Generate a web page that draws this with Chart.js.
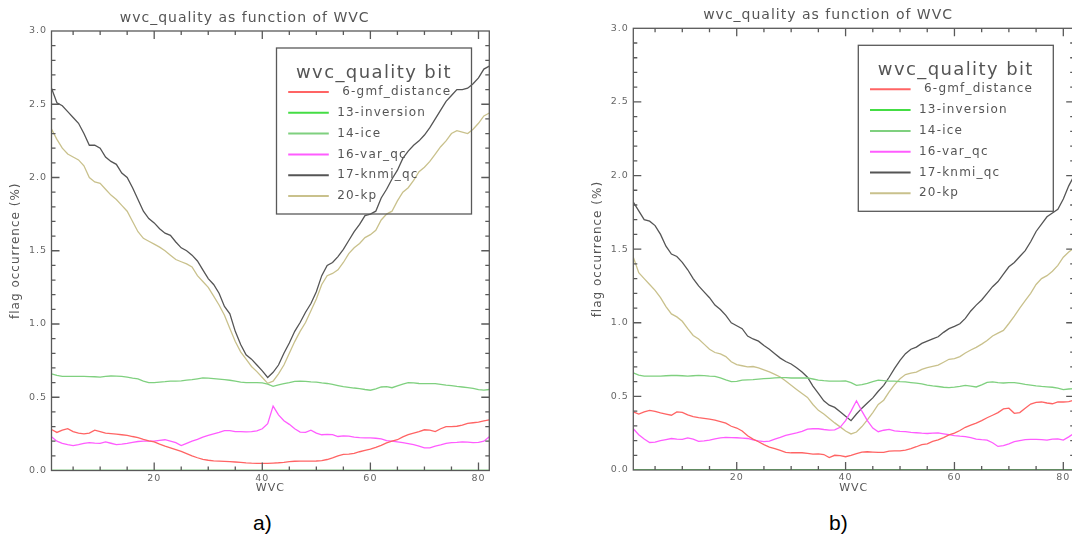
<!DOCTYPE html>
<html>
<head>
<meta charset="utf-8">
<script src="https://cdn.jsdelivr.net/npm/chart.js@4.4.0/dist/chart.umd.min.js"></script>
<style>
  body { margin: 0; width: 1072px; height: 545px; overflow: hidden; background: #fff; position: relative; }
  canvas { position: absolute; top: 0; }
  #chart-a { left: 0; }
  #chart-b { left: 582px; }
  .tag { position: absolute; top: 511px; font: 21px "Liberation Sans", Arial, sans-serif; color: #000; }
</style>
</head>
<body>
<canvas id="chart-a" width="492" height="500"></canvas>
<canvas id="chart-b" width="494" height="500"></canvas>
<div class="tag" style="left:253px">a)</div>
<div class="tag" style="left:829px">b)</div>
<script>
'use strict';

// WVC index 1..82
const wvc = Array.from({ length: 82 }, (_, i) => i + 1);
const xTickLabels = [20, 40, 60, 80];

const seriesNames = [' 6-gmf_distance', '13-inversion', '14-ice', '16-var_qc', '17-knmi_qc', '20-kp'];
const seriesColors = ['#ff6464', '#44dd44', '#7fd07f', '#ff5cff', '#555555', '#c9c18c'];

// ---- panel a)
const gmfA = [0.28,0.26,0.275,0.285,0.265,0.255,0.25,0.255,0.275,0.265,
  0.255,0.252,0.248,0.244,0.24,0.232,0.225,0.213,0.203,0.195,
  0.18,0.166,0.154,0.142,0.13,0.115,0.10,0.087,0.076,0.07,
  0.066,0.064,0.062,0.06,0.058,0.055,0.052,0.05,0.049,0.048,
  0.049,0.051,0.053,0.056,0.06,0.063,0.064,0.064,0.064,0.065,
  0.068,0.075,0.086,0.10,0.11,0.112,0.117,0.128,0.137,0.146,
  0.158,0.172,0.188,0.20,0.21,0.23,0.245,0.255,0.265,0.278,
  0.275,0.265,0.285,0.30,0.30,0.302,0.31,0.322,0.326,0.33,
  0.338,0.345];
const inversionA = [0,0,0,0,0,0,0,0,0,0, 0,0,0,0,0,0,0,0,0,0, 0,0,0,0,0,0,0,0,0,0,
  0,0,0,0,0,0,0,0,0,0, 0,0,0,0,0,0,0,0,0,0, 0,0,0,0,0,0,0,0,0,0,
  0,0,0,0,0,0,0,0,0,0, 0,0,0,0,0,0,0,0,0,0, 0,0];
const iceA = [0.66,0.65,0.643,0.643,0.643,0.643,0.642,0.641,0.64,0.638,
  0.643,0.645,0.644,0.643,0.638,0.63,0.625,0.61,0.60,0.60,
  0.603,0.606,0.61,0.61,0.612,0.617,0.62,0.626,0.632,0.63,
  0.627,0.624,0.62,0.616,0.61,0.603,0.60,0.60,0.60,0.598,
  0.59,0.575,0.585,0.593,0.60,0.608,0.61,0.608,0.605,0.603,
  0.598,0.594,0.588,0.58,0.572,0.568,0.563,0.559,0.553,0.548,
  0.557,0.57,0.573,0.565,0.578,0.59,0.60,0.598,0.594,0.593,
  0.593,0.593,0.588,0.583,0.58,0.574,0.57,0.566,0.56,0.552,
  0.548,0.553];
const varqcA = [0.23,0.20,0.185,0.176,0.17,0.177,0.185,0.19,0.187,0.185,
  0.195,0.186,0.177,0.18,0.185,0.192,0.198,0.2,0.2,0.2,
  0.205,0.21,0.2,0.19,0.17,0.185,0.2,0.212,0.228,0.24,
  0.25,0.26,0.272,0.272,0.266,0.265,0.264,0.265,0.27,0.285,
  0.32,0.44,0.38,0.34,0.315,0.285,0.262,0.26,0.275,0.255,
  0.244,0.247,0.245,0.232,0.237,0.235,0.228,0.224,0.223,0.223,
  0.22,0.216,0.204,0.2,0.195,0.19,0.184,0.176,0.167,0.155,
  0.155,0.167,0.175,0.185,0.19,0.192,0.195,0.193,0.19,0.192,
  0.2,0.23];
const knmiA = [2.61,2.51,2.49,2.45,2.41,2.37,2.30,2.22,2.22,2.20,
  2.14,2.11,2.09,2.03,2.00,1.93,1.85,1.77,1.72,1.69,
  1.65,1.62,1.605,1.56,1.52,1.50,1.47,1.43,1.37,1.31,
  1.27,1.21,1.12,1.07,0.95,0.86,0.79,0.76,0.72,0.68,
  0.635,0.67,0.72,0.80,0.87,0.95,1.01,1.08,1.14,1.22,
  1.33,1.40,1.42,1.46,1.51,1.57,1.63,1.68,1.74,1.75,
  1.77,1.86,1.92,1.99,2.05,2.13,2.18,2.22,2.25,2.29,
  2.34,2.40,2.46,2.52,2.56,2.60,2.60,2.61,2.64,2.68,
  2.74,2.76];
const kpA = [2.33,2.26,2.20,2.16,2.14,2.12,2.08,2.00,1.97,1.96,
  1.92,1.88,1.85,1.81,1.77,1.70,1.63,1.585,1.565,1.545,
  1.525,1.50,1.47,1.44,1.425,1.41,1.39,1.33,1.29,1.25,
  1.19,1.13,1.06,0.97,0.88,0.81,0.76,0.71,0.675,0.635,
  0.595,0.61,0.66,0.72,0.80,0.88,0.95,1.01,1.09,1.17,
  1.27,1.33,1.345,1.37,1.42,1.48,1.52,1.55,1.59,1.61,
  1.64,1.71,1.75,1.77,1.84,1.90,1.93,1.98,2.04,2.07,
  2.11,2.16,2.21,2.25,2.30,2.32,2.31,2.30,2.33,2.37,
  2.42,2.44];

// ---- panel b)
const gmfB = [0.395,0.38,0.395,0.405,0.398,0.388,0.38,0.372,0.395,0.392,
  0.375,0.362,0.355,0.35,0.345,0.338,0.328,0.318,0.297,0.285,
  0.265,0.232,0.21,0.192,0.172,0.155,0.145,0.133,0.12,0.117,
  0.117,0.117,0.113,0.108,0.11,0.105,0.085,0.10,0.098,0.09,
  0.10,0.112,0.122,0.124,0.122,0.12,0.12,0.128,0.13,0.13,
  0.135,0.145,0.158,0.172,0.178,0.195,0.205,0.22,0.238,0.25,
  0.268,0.29,0.305,0.318,0.335,0.355,0.372,0.39,0.415,0.42,
  0.385,0.39,0.42,0.448,0.46,0.462,0.455,0.45,0.462,0.462,
  0.465,0.475];
const inversionB = [0,0,0,0,0,0,0,0,0,0, 0,0,0,0,0,0,0,0,0,0, 0,0,0,0,0,0,0,0,0,0,
  0,0,0,0,0,0,0,0,0,0, 0,0,0,0,0,0,0,0,0,0, 0,0,0,0,0,0,0,0,0,0,
  0,0,0,0,0,0,0,0,0,0, 0,0,0,0,0,0,0,0,0,0, 0,0];
const iceB = [0.66,0.645,0.637,0.637,0.637,0.638,0.64,0.642,0.642,0.64,
  0.637,0.64,0.643,0.641,0.638,0.636,0.625,0.612,0.6,0.602,
  0.61,0.612,0.614,0.617,0.62,0.623,0.626,0.628,0.627,0.625,
  0.625,0.625,0.625,0.618,0.611,0.607,0.604,0.603,0.604,0.605,
  0.593,0.575,0.58,0.588,0.6,0.61,0.607,0.604,0.603,0.6,
  0.598,0.594,0.59,0.585,0.577,0.571,0.567,0.562,0.56,0.563,
  0.568,0.575,0.57,0.564,0.578,0.595,0.598,0.594,0.591,0.593,
  0.594,0.588,0.581,0.577,0.572,0.568,0.565,0.562,0.556,0.546,
  0.55,0.553];
const varqcB = [0.28,0.24,0.21,0.187,0.19,0.2,0.207,0.214,0.21,0.208,
  0.218,0.21,0.195,0.198,0.203,0.212,0.218,0.221,0.22,0.219,
  0.217,0.214,0.205,0.198,0.193,0.196,0.21,0.222,0.235,0.244,
  0.252,0.262,0.278,0.28,0.28,0.275,0.271,0.272,0.29,0.335,
  0.40,0.47,0.40,0.335,0.285,0.26,0.27,0.276,0.266,0.262,
  0.26,0.256,0.253,0.25,0.248,0.25,0.252,0.246,0.24,0.234,
  0.23,0.227,0.22,0.21,0.206,0.203,0.185,0.16,0.165,0.178,
  0.192,0.2,0.206,0.208,0.208,0.206,0.203,0.21,0.212,0.203,
  0.225,0.25];
const knmiB = [1.82,1.76,1.70,1.69,1.66,1.60,1.52,1.467,1.45,1.41,
  1.36,1.30,1.25,1.21,1.17,1.12,1.09,1.05,1.00,0.98,
  0.96,0.91,0.89,0.875,0.845,0.82,0.79,0.76,0.737,0.72,
  0.695,0.665,0.63,0.57,0.52,0.47,0.44,0.425,0.395,0.365,
  0.335,0.38,0.42,0.455,0.49,0.535,0.575,0.63,0.69,0.745,
  0.79,0.82,0.835,0.86,0.875,0.89,0.905,0.935,0.96,0.975,
  0.993,1.03,1.08,1.12,1.155,1.2,1.245,1.28,1.33,1.38,
  1.41,1.45,1.49,1.55,1.62,1.67,1.72,1.745,1.77,1.84,
  1.93,2.0];
const kpB = [1.445,1.34,1.30,1.26,1.22,1.17,1.11,1.06,1.04,1.01,
  0.96,0.914,0.89,0.855,0.82,0.798,0.788,0.77,0.735,0.716,
  0.708,0.70,0.703,0.694,0.68,0.666,0.65,0.632,0.604,0.575,
  0.547,0.52,0.493,0.445,0.405,0.38,0.35,0.32,0.293,0.265,
  0.245,0.258,0.295,0.34,0.39,0.445,0.474,0.53,0.58,0.62,
  0.648,0.658,0.665,0.683,0.695,0.704,0.713,0.732,0.752,0.756,
  0.77,0.795,0.815,0.833,0.855,0.88,0.91,0.93,0.948,0.995,
  1.045,1.10,1.15,1.20,1.26,1.30,1.32,1.35,1.39,1.445,
  1.48,1.51];

const titleText = 'wvc_quality as function of WVC';
const legendTitle = 'wvc_quality bit';
const FONT = '"DejaVu Sans", sans-serif';

// IDL style text is widely spaced
const spacing = {
  id: 'spacing',
  beforeUpdate(chart) { chart.ctx.letterSpacing = '1px'; },
  beforeDraw(chart) { chart.ctx.letterSpacing = '1px'; }
};

// box round the plot with inward ticks
const frame = {
  id: 'frame',
  afterDatasetsDraw(chart) {
    const { ctx, chartArea: a, scales: { x, y } } = chart;
    ctx.save();
    ctx.strokeStyle = '#595959';
    ctx.lineWidth = 1.3;
    ctx.strokeRect(a.left, a.top, a.right - a.left, a.bottom - a.top);
    ctx.beginPath();
    for (let v = 5; v <= 80; v += 5) {
      const px = x.getPixelForValue(v);
      const len = v % 20 === 0 ? 8 : 4;
      ctx.moveTo(px, a.bottom); ctx.lineTo(px, a.bottom - len);
      ctx.moveTo(px, a.top); ctx.lineTo(px, a.top + len);
    }
    for (let i = 1; i < 30; i++) {
      const py = y.getPixelForValue(i / 10);
      const len = i % 5 === 0 ? 8 : 4;
      ctx.moveTo(a.left, py); ctx.lineTo(a.left + len, py);
      ctx.moveTo(a.right, py); ctx.lineTo(a.right - len, py);
    }
    ctx.stroke();
    ctx.restore();
  }
};

// legend box inside the plot (transparent, lines run through it)
const boxLegend = {
  id: 'boxLegend',
  afterDraw(chart) {
    const { ctx, chartArea: a } = chart;
    const L = a.left + 225, T = a.top + 17, W = 195, H = 166;
    ctx.save();
    ctx.strokeStyle = '#595959';
    ctx.lineWidth = 1.3;
    ctx.strokeRect(L, T, W, H);
    ctx.fillStyle = '#555';
    ctx.textBaseline = 'middle';
    ctx.textAlign = 'center';
    ctx.letterSpacing = '1.4px';
    ctx.font = '18px ' + FONT;
    ctx.fillText(legendTitle, L + W / 2, T + 25);
    ctx.textAlign = 'left';
    ctx.letterSpacing = '1.2px';
    ctx.font = '12px ' + FONT;
    chart.data.datasets.forEach((ds, i) => {
      const yy = T + 44 + i * 20.8;
      ctx.strokeStyle = ds.borderColor;
      ctx.lineWidth = 2;
      ctx.beginPath();
      ctx.moveTo(L + 11.7, yy);
      ctx.lineTo(L + 52.3, yy);
      ctx.stroke();
      ctx.fillText(ds.label, L + 60.7, yy);
    });
    ctx.restore();
  }
};

function makeChart(id, series, o) {
  const ctx = document.getElementById(id).getContext('2d');
  const datasets = series.map((vals, i) => ({
    label: seriesNames[i],
    data: vals.map((v, j) => ({ x: wvc[j], y: v })),
    borderColor: seriesColors[i],
    borderWidth: 1.3,
    pointRadius: 0,
    tension: 0,
  }));

  return new Chart(ctx, {
    type: 'line',
    data: { datasets },
    options: {
      responsive: false,
      animation: false,
      layout: { padding: { right: o.padRight } },
      scales: {
        x: {
          type: 'linear',
          min: 1,
          max: 82,
          grid: { display: false, drawTicks: false },
          border: { display: false },
          afterBuildTicks: (scale) => { scale.ticks = xTickLabels.map(v => ({ value: v })); },
          afterFit: (scale) => { scale.height = o.xHeight; },
          ticks: { padding: 2, color: '#666', font: { family: FONT, size: 9.5 } },
          title: { display: true, text: 'WVC', color: '#555', padding: { bottom: 5.4 }, font: { family: FONT, size: 11 } },
        },
        y: {
          type: 'linear',
          min: 0,
          max: 3,
          grid: { display: false, drawTicks: false },
          border: { display: false },
          afterFit: (scale) => { scale.width = o.yWidth; },
          ticks: { stepSize: 0.5, padding: 4.5, color: '#666', font: { family: FONT, size: 9.5 }, callback: v => v.toFixed(1) },
          title: { display: true, text: 'flag occurrence (%)', color: '#555', padding: { top: 8.5 }, font: { family: FONT, size: 12 } },
        },
      },
      plugins: {
        legend: { display: false },
        tooltip: { enabled: false },
        title: {
          display: true,
          text: titleText,
          color: '#555',
          font: { family: FONT, size: 14, weight: 'normal' },
          padding: { top: o.titleTop, bottom: o.titleBottom },
        },
      },
    },
    plugins: [spacing, frame, boxLegend],
  });
}

const charts = [];
charts[0] = makeChart('chart-a', [gmfA, inversionA, iceA, varqcA, knmiA, kpA],
  { padRight: 2.7, xHeight: 29.5, yWidth: 51.5, titleTop: 9.9, titleBottom: 4.3 });
charts[1] = makeChart('chart-b', [gmfB, inversionB, iceB, varqcB, knmiB, kpB],
  { padRight: 1.8, xHeight: 30, yWidth: 51.3, titleTop: 6.6, titleBottom: 4.9 });
</script>
</body>
</html>
